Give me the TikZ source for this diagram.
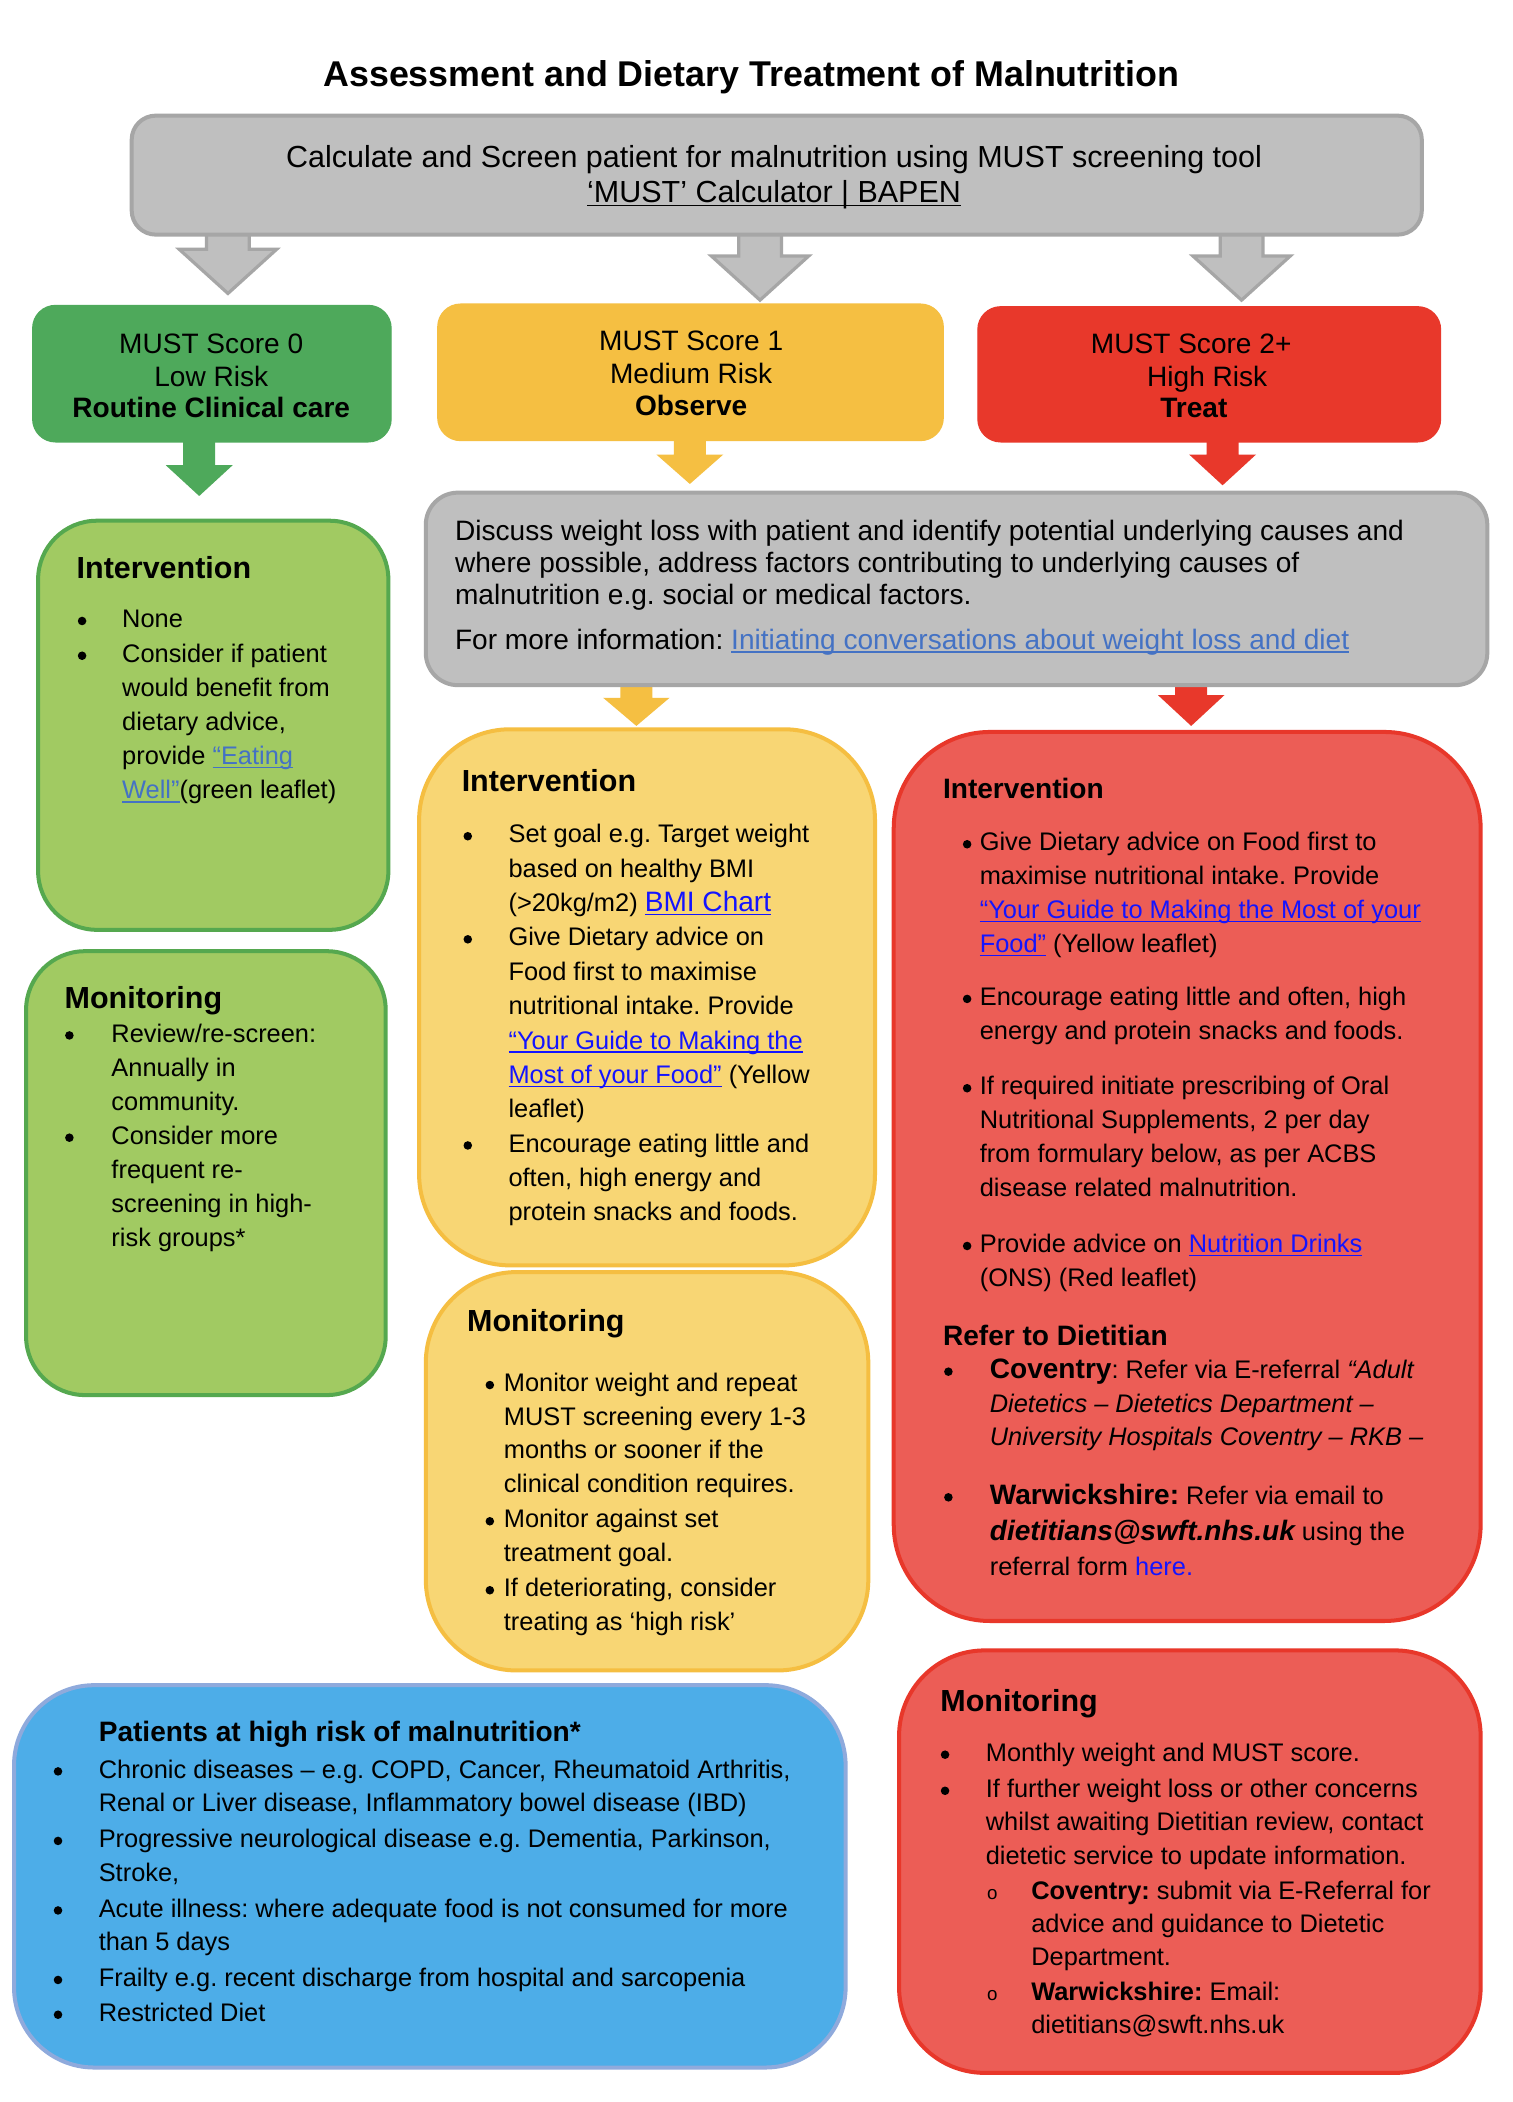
\documentclass[tikz,border=0pt]{standalone}
\usepackage{fontspec}
\setmainfont{Liberation Sans}
\usetikzlibrary{calc}
\frenchspacing
\definecolor{gfill}{HTML}{BFBFBF}
\definecolor{gline}{HTML}{A6A6A6}
\definecolor{mgreen}{HTML}{4EA95B}
\definecolor{myellow}{HTML}{F5BF42}
\definecolor{mred}{HTML}{E8382B}
\definecolor{lgreen}{HTML}{A1CA62}
\definecolor{lgreenb}{HTML}{55A84F}
\definecolor{lyellow}{HTML}{F8D674}
\definecolor{lyellowb}{HTML}{F5BE41}
\definecolor{lred}{HTML}{EC5D56}
\definecolor{lredb}{HTML}{E8372A}
\definecolor{lblue}{HTML}{4DADE8}
\definecolor{lblueb}{HTML}{8FAADC}
\definecolor{lnkm}{HTML}{4472C4}
\definecolor{lnkb}{HTML}{1414FF}
\newcounter{lnc}
\newcommand\ulk[1]{\leavevmode\setbox0=\hbox{#1}\rlap{\rule[-1.4pt]{\wd0}{0.55pt}}\box0}
\newcommand\tline[4][tl]{\stepcounter{lnc}\node[#1] (t\arabic{lnc}) at (#2,#3) {#4};}
\newcommand\bult[2]{\stepcounter{lnc}\node[bdot] (b\arabic{lnc}) at (#1+3.4,#2-5) {};}
\newcommand\subo[2]{\stepcounter{lnc}\node[tl,font=\fontsize{7}{8}\selectfont] (o\arabic{lnc}) at (#1,#2) {o};}
\newcommand\bigb{\fontsize{10.5}{12}\selectfont\bfseries}
\newcommand\boxn[6][]{\node[#1,anchor=north west,inner sep=0pt,minimum width={(#5-#3)*0.5pt},minimum height={(#6-#4)*0.5pt}] (#2) at (#3,#4) {};}
\newcommand\barrow[6]{\draw[#1] let \p1=(#2), \p2=(#3) in
  (\x1-#4,\y1) -- (\x1-#4,\y2+#6) -- (\x1-#5,\y2+#6) -- (\x2,\y2) -- (\x1+#5,\y2+#6) -- (\x1+#4,\y2+#6) -- (\x1+#4,\y1) -- cycle;}
\begin{document}
\begin{tikzpicture}[x=0.5pt,y=-0.5pt,
  tl/.style={anchor=base west,inner sep=0pt,font=\fontsize{9.5}{11}\selectfont},
  bdot/.style={circle,fill=black,inner sep=0pt,minimum size=3.2pt},
  hd/.style={tl,font=\fontsize{11.4}{13}\selectfont\bfseries},
  hdr/.style={tl,font=\fontsize{10.5}{12}\selectfont\bfseries},
  md/.style={tl,font=\fontsize{10.5}{12}\selectfont},
  mc/.style={md,anchor=base},
  topc/.style={tl,anchor=base,font=\fontsize{11.4}{13}\selectfont},
  ttl/.style={tl,anchor=base,font=\fontsize{13.4}{15}\selectfont\bfseries},
  gbox/.style={fill=gfill,draw=gline,line width=1.5pt},
  mg/.style={fill=mgreen,draw=mgreen,line width=0.5pt,rounded corners=8.5pt},
  my/.style={fill=myellow,draw=myellow,line width=0.5pt,rounded corners=8.5pt},
  mr/.style={fill=mred,draw=mred,line width=0.5pt,rounded corners=8.5pt},
  lg/.style={fill=lgreen,draw=lgreenb,line width=1.5pt},
  ly/.style={fill=lyellow,draw=lyellowb,line width=1.5pt},
  lr/.style={fill=lred,draw=lredb,line width=1.5pt},
  lb/.style={fill=lblue,draw=lblueb,line width=1.5pt},
  garr/.style={fill=gfill,draw=gline,line width=1.2pt,line join=miter},
  carr/.style={fill=#1,draw=none}
]
\useasboundingbox (0,0) rectangle (1131,1572.3);
\fill[white] (0,0) rectangle (1131,1572.3);

% arrow end points
\coordinate (ga1s) at (170.5,170);  \coordinate (ga1e) at (170.5,219.5);
\coordinate (ga2s) at (568.5,170);  \coordinate (ga2e) at (568.5,224.5);
\coordinate (ga3s) at (928.7,170);  \coordinate (ga3e) at (928.7,224.5);
\coordinate (ca1s) at (149,325);    \coordinate (ca1e) at (149,371);
\coordinate (ca2s) at (516,325);    \coordinate (ca2e) at (516,362);
\coordinate (ca3s) at (914.5,325);  \coordinate (ca3e) at (914.5,363);
\coordinate (ca4s) at (476,505);    \coordinate (ca4e) at (476,543);
\coordinate (ca5s) at (891,505);    \coordinate (ca5e) at (891,543);

\barrow{garr}{ga1s}{ga1e}{8pt}{18.2pt}{16.5pt}
\barrow{garr}{ga2s}{ga2e}{8pt}{18.2pt}{16.5pt}
\barrow{garr}{ga3s}{ga3e}{8pt}{18.2pt}{16.5pt}
\barrow{carr=mgreen}{ca1s}{ca1e}{6pt}{12.5pt}{11.5pt}
\barrow{carr=myellow}{ca2s}{ca2e}{6pt}{12.5pt}{11pt}
\barrow{carr=mred}{ca3s}{ca3e}{6pt}{12.5pt}{11.5pt}
\barrow{carr=myellow}{ca4s}{ca4e}{6pt}{12.4pt}{10.5pt}
\barrow{carr=mred}{ca5s}{ca5e}{6pt}{12.4pt}{11.5pt}

% boxes
\boxn[gbox,rounded corners=9pt]{top}{97}{85}{1062}{174}
\boxn[mg]{mustg}{24}{228}{292}{330}
\boxn[my]{musty}{327}{227}{705}{329}
\boxn[mr]{mustr}{731}{229}{1077}{330}
\boxn[gbox,rounded corners=12pt]{disc}{317}{367}{1111}{511}
\boxn[lg,rounded corners=22pt]{gint}{27}{388}{289}{694}
\boxn[lg,rounded corners=22pt]{gmon}{18}{710}{287}{1042}
\boxn[ly,rounded corners=34pt]{yint}{312}{544}{653}{945}
\boxn[ly,rounded corners=34pt]{ymon}{317}{950}{648}{1248}
\boxn[lr,rounded corners=36pt]{rint}{667}{546}{1106}{1211}
\boxn[lr,rounded corners=32pt]{rmon}{671}{1233}{1106}{1549}
\boxn[lb,rounded corners=30pt]{blue}{9}{1259}{631}{1545}

% title and top box
\tline[ttl]{562}{64.5}{Assessment and Dietary Treatment of Malnutrition}
\tline[topc]{579}{125.5}{Calculate and Screen patient for malnutrition using MUST screening tool}
\tline[topc]{579}{151.5}{\ulk{‘MUST’ Calculator | BAPEN}}

% MUST boxes
\tline[mc]{158}{264.5}{MUST Score 0}
\tline[mc]{158}{289}{Low Risk}
\tline[mc]{158}{312.5}{\bfseries Routine Clinical care}
\tline[mc]{517}{262.5}{MUST Score 1}
\tline[mc]{517}{286.5}{Medium Risk}
\tline[mc]{517}{310.5}{\bfseries Observe}
\tline[mc]{891}{264.5}{MUST Score 2+}
\tline[mc]{903}{289}{High Risk}
\tline[mc]{893}{312.5}{\bfseries Treat}

% discuss box
\tline[md]{340}{404.5}{Discuss weight loss with patient and identify potential underlying causes and}
\tline[md]{340}{428.5}{where possible, address factors contributing to underlying causes of}
\tline[md]{340}{452.5}{malnutrition e.g. social or medical factors.}
\tline[md]{340}{485.5}{For more information: {\color{lnkm}\ulk{Initiating conversations about weight loss and diet}}}

% green intervention
\tline[hd]{57}{433}{Intervention}
\bult{58}{469.5}\tline{91}{469.5}{None}
\bult{58}{495.5}\tline{91}{495.5}{Consider if patient}
\tline{91}{521}{would benefit from}
\tline{91}{546.5}{dietary advice,}
\tline{91}{572}{provide {\color{lnkm}\ulk{“Eating}}}
\tline{91}{597.5}{{\color{lnkm}\ulk{Well”}}(green leaflet)}

% green monitoring
\tline[hd]{48}{754}{Monitoring}
\bult{48.5}{779.5}\tline{83}{779.5}{Review/re-screen:}
\tline{83}{805}{Annually in}
\tline{83}{830.5}{community.}
\bult{48.5}{856}\tline{83}{856}{Consider more}
\tline{83}{881.5}{frequent re-}
\tline{83}{907}{screening in high-}
\tline{83}{932.5}{risk groups*}

% yellow intervention
\tline[hd]{345}{592}{Intervention}
\bult{346.5}{630.5}\tline{380}{630.5}{Set goal e.g. Target weight}
\tline{380}{656.2}{based on healthy BMI}
\tline{380}{681.9}{(>20kg/m2) {\fontsize{10.5}{12}\selectfont\color{lnkb}\ulk{BMI Chart}}}
\bult{346.5}{707.6}\tline{380}{707.6}{Give Dietary advice on}
\tline{380}{733.3}{Food first to maximise}
\tline{380}{759}{nutritional intake. Provide}
\tline{380}{784.7}{{\color{lnkb}\ulk{“Your Guide to Making the}}}
\tline{380}{810.4}{{\color{lnkb}\ulk{Most of your Food”}} (Yellow}
\tline{380}{836.1}{leaflet)}
\bult{346.5}{861.8}\tline{380}{861.8}{Encourage eating little and}
\tline{380}{887.5}{often, high energy and}
\tline{380}{913.2}{protein snacks and foods.}

% yellow monitoring
\tline[hd]{349}{996}{Monitoring}
\bult{363}{1041}\tline{376.5}{1041}{Monitor weight and repeat}
\tline{376.5}{1066}{MUST screening every 1-3}
\tline{376.5}{1091.1}{months or sooner if the}
\tline{376.5}{1116.1}{clinical condition requires.}
\bult{363}{1142.9}\tline{376.5}{1142.9}{Monitor against set}
\tline{376.5}{1167.9}{treatment goal.}
\bult{363}{1194.5}\tline{376.5}{1194.5}{If deteriorating, consider}
\tline{376.5}{1219.5}{treating as ‘high risk’}

% red intervention
\tline[hdr]{705}{597}{Intervention}
\bult{720}{636.5}\tline{732.5}{636.5}{Give Dietary advice on Food first to}
\tline{732.5}{661.8}{maximise nutritional intake. Provide}
\tline{732.5}{687.2}{{\color{lnkb}\ulk{“Your Guide to Making the Most of your}}}
\tline{732.5}{712.5}{{\color{lnkb}\ulk{Food”}} (Yellow leaflet)}
\bult{720}{752.2}\tline{732.5}{752.2}{Encourage eating little and often, high}
\tline{732.5}{777.5}{energy and protein snacks and foods.}
\bult{720}{819}\tline{732.5}{819}{If required initiate prescribing of Oral}
\tline{732.5}{844.3}{Nutritional Supplements, 2 per day}
\tline{732.5}{869.7}{from formulary below, as per ACBS}
\tline{732.5}{895}{disease related malnutrition.}
\bult{720}{937}\tline{732.5}{937}{Provide advice on {\color{lnkb}\ulk{Nutrition Drinks}}}
\tline{732.5}{962.3}{(ONS) (Red leaflet)}
\tline[hdr]{705}{1006.5}{Refer to Dietitian}
\bult{706}{1031}\tline{740}{1031}{{\bigb Coventry}: Refer via E-referral \textit{“Adult}}
\tline{740}{1056.5}{\itshape Dietetics – Dietetics Department –}
\tline{740}{1081.5}{\itshape University Hospitals Coventry – RKB –}
\bult{706}{1125}\tline{740}{1125}{{\bigb Warwickshire:} Refer via email to}
\tline{740}{1152}{{\bigb\itshape dietitians@swft.nhs.uk} using the}
\tline{740}{1178.5}{referral form {\color{lnkb}here.}}

% red monitoring
\tline[hd]{703}{1280}{Monitoring}
\bult{703.5}{1317.5}\tline{737}{1317.5}{Monthly weight and MUST score.}
\bult{703.5}{1344.5}\tline{737}{1344.5}{If further weight loss or other concerns}
\tline{737}{1369.5}{whilst awaiting Dietitian review, contact}
\tline{737}{1394.5}{dietetic service to update information.}
\subo{738}{1420.5}\tline{771}{1420.5}{\textbf{Coventry:} submit via E-Referral for}
\tline{771}{1445.5}{advice and guidance to Dietetic}
\tline{771}{1470.5}{Department.}
\subo{738}{1496}\tline{771}{1496}{\textbf{Warwickshire:} Email:}
\tline{771}{1521}{dietitians@swft.nhs.uk}

% blue box
\tline[hdr]{73.5}{1302.5}{Patients at high risk of malnutrition*}
\bult{40}{1330}\tline{73.5}{1330}{Chronic diseases – e.g. COPD, Cancer, Rheumatoid Arthritis,}
\tline{73.5}{1355}{Renal or Liver disease, Inflammatory bowel disease (IBD)}
\bult{40}{1382}\tline{73.5}{1382}{Progressive neurological disease e.g. Dementia, Parkinson,}
\tline{73.5}{1407}{Stroke,}
\bult{40}{1434}\tline{73.5}{1434}{Acute illness: where adequate food is not consumed for more}
\tline{73.5}{1459}{than 5 days}
\bult{40}{1486}\tline{73.5}{1486}{Frailty e.g. recent discharge from hospital and sarcopenia}
\bult{40}{1512}\tline{73.5}{1512}{Restricted Diet}
\end{tikzpicture}
\end{document}
